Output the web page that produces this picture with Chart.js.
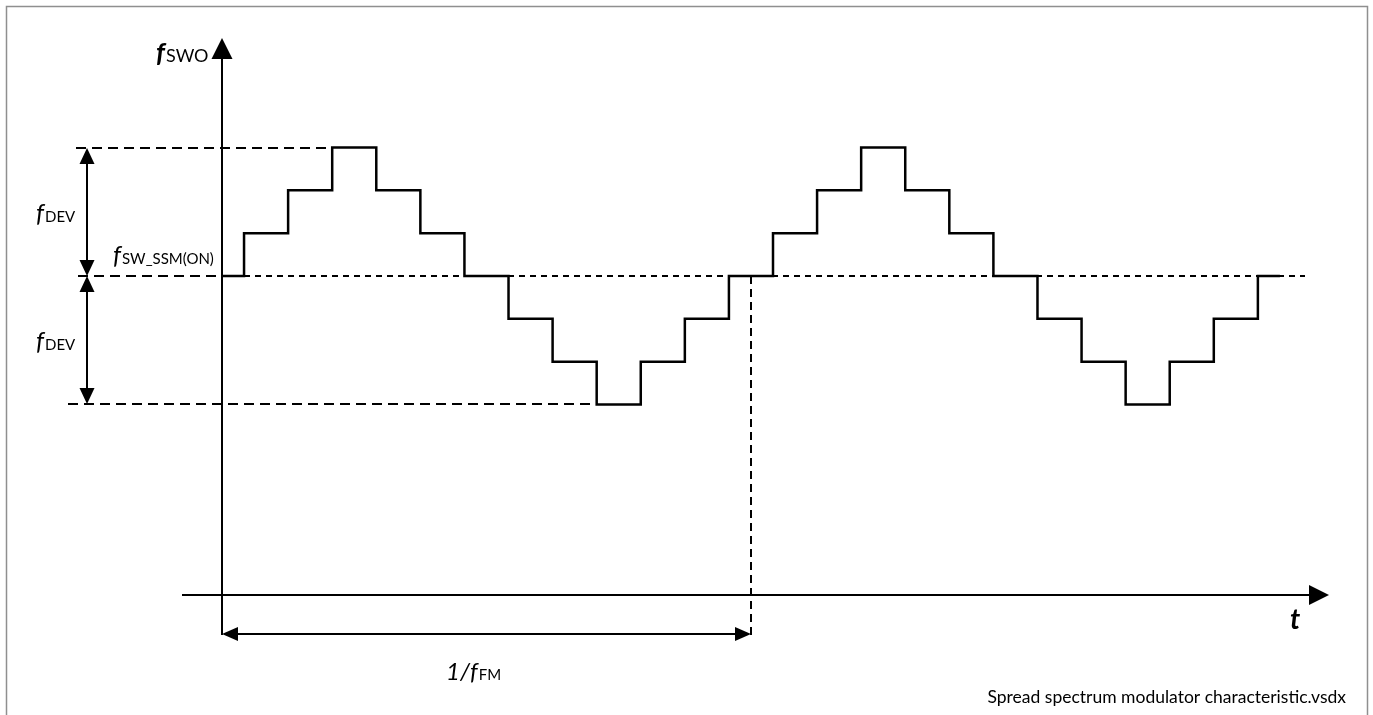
<!DOCTYPE html>
<html>
<head>
<meta charset="utf-8">
<script src="https://cdn.jsdelivr.net/npm/chart.js@4"></script>
<style>
  body { margin: 0; background: #fff; }
  #wrap { width: 1373px; height: 715px; }
</style>
</head>
<body>
<div id="wrap"><canvas id="ssm" width="1373" height="715"></canvas></div>
<script>
// --- data: staircase of the modulated switching frequency ---
// time in modulation steps (one period = 12 steps), level in steps of fDEV/3
const stepTimes = [0, 0.5, 1.5, 2.5, 3.5, 4.5, 5.5, 6.5, 7.5, 8.5, 9.5, 10.5, 11.5,
                   12.5, 13.5, 14.5, 15.5, 16.5, 17.5, 18.5, 19.5, 20.5, 21.5, 22.5, 23.5, 24];
const stepLevels = [0, 1, 2, 3, 2, 1, 0, -1, -2, -3, -2, -1, 0,
                    1, 2, 3, 2, 1, 0, -1, -2, -3, -2, -1, 0, 0];
const levelMax = 3;      // +fDEV
const levelCenter = 0;   // fSW_SSM(ON)
const levelMin = -3;     // -fDEV
const period = 12;       // 1/fFM
const peakTime = 2.5;    // first top plateau starts
const valleyTime = 8.5;  // first bottom plateau starts

const FONT = 'Lato, "Noto Sans", sans-serif';

function arrowHead(ctx, tipX, tipY, dir, len, half) {
    // dir: 'up','down','left','right'
    ctx.beginPath();
    ctx.moveTo(tipX, tipY);
    if (dir === 'up') { ctx.lineTo(tipX - half, tipY + len); ctx.lineTo(tipX + half, tipY + len); }
    if (dir === 'down') { ctx.lineTo(tipX - half, tipY - len); ctx.lineTo(tipX + half, tipY - len); }
    if (dir === 'left') { ctx.lineTo(tipX + len, tipY - half); ctx.lineTo(tipX + len, tipY + half); }
    if (dir === 'right') { ctx.lineTo(tipX - len, tipY - half); ctx.lineTo(tipX - len, tipY + half); }
    ctx.closePath();
    ctx.fill();
}

// snap to the pixel grid so 2px lines stay crisp
const snap = v => Math.round(v);

function line(ctx, x1, y1, x2, y2, width, dash) {
    ctx.save();
    ctx.lineWidth = width;
    ctx.setLineDash(dash || []);
    ctx.beginPath();
    ctx.moveTo(snap(x1), snap(y1));
    ctx.lineTo(snap(x2), snap(y2));
    ctx.stroke();
    ctx.restore();
}

// main symbol + subscript
function subText(ctx, main, sub, x, baseline, mainFont, subFont) {
    ctx.font = mainFont;
    ctx.fillText(main, x, baseline);
    const w = ctx.measureText(main).width;
    ctx.font = subFont;
    ctx.fillText(sub, x + w + 1, baseline);
}

const diagramPlugin = {
    id: 'diagram',
    beforeDatasetsDraw(chart) {
        const ctx = chart.ctx;
        const X = v => chart.scales.x.getPixelForValue(v);
        const Y = v => chart.scales.y.getPixelForValue(v);
        const x0 = snap(X(0)), xP = snap(X(period));
        const yTop = snap(Y(levelMax)), yMid = snap(Y(levelCenter)), yBot = snap(Y(levelMin));
        const axisY = 595;

        ctx.save();
        // frame
        ctx.strokeStyle = '#8f8f8f';
        ctx.lineWidth = 1.5;
        ctx.strokeRect(6.5, 6.5, 1361, 730);

        ctx.strokeStyle = '#000';
        ctx.fillStyle = '#000';
        // axes
        line(ctx, x0, 56, x0, 635, 2);
        arrowHead(ctx, x0, 38, 'up', 21, 10.5);
        line(ctx, 182, axisY, 1312, axisY, 2);
        arrowHead(ctx, 1329, axisY, 'right', 20, 10);

        // reference lines
        line(ctx, 76, yTop, X(peakTime), yTop, 2, [10, 6]);
        line(ctx, 78, yMid, x0, yMid, 2, [10, 6]);
        line(ctx, x0, yMid, 1305, yMid, 2, [6, 5]);
        line(ctx, 68, yBot, X(valleyTime), yBot, 2, [10, 6]);
        line(ctx, xP, yMid, xP, 640, 2, [8, 5]);

        // fDEV dimension arrows
        const ax = 87;
        line(ctx, ax, yTop + 10, ax, yMid - 10, 2);
        arrowHead(ctx, ax, yTop, 'up', 16, 7.5);
        arrowHead(ctx, ax, yMid, 'down', 16, 7.5);
        line(ctx, ax, yMid + 10, ax, yBot - 10, 2);
        arrowHead(ctx, ax, yMid, 'up', 16, 7.5);
        arrowHead(ctx, ax, yBot, 'down', 16, 7.5);

        // period dimension arrow
        const dy = 634;
        line(ctx, x0 + 10, dy, xP - 10, dy, 2);
        arrowHead(ctx, x0, dy, 'left', 16, 7);
        arrowHead(ctx, xP, dy, 'right', 16, 7);

        // labels
        ctx.textBaseline = 'alphabetic';
        ctx.textAlign = 'left';
        subText(ctx, 'f', 'SWO', 156, 62, 'italic bold 27px ' + FONT, '18px ' + FONT);
        subText(ctx, 'f', 'DEV', 36, 222, 'italic 25px ' + FONT, '15px ' + FONT);
        subText(ctx, 'f', 'SW_SSM(ON)', 113, 264, 'italic 25px ' + FONT, '15px ' + FONT);
        subText(ctx, 'f', 'DEV', 36, 350, 'italic 25px ' + FONT, '15px ' + FONT);
        subText(ctx, '1/f', 'FM', 446, 680, 'italic 24px ' + FONT, '15px ' + FONT);
        ctx.font = 'italic bold 28px ' + FONT;
        ctx.fillText('t', 1290, 629);
        ctx.font = '17.5px ' + FONT;
        ctx.textAlign = 'right';
        ctx.fillText('Spread spectrum modulator characteristic.vsdx', 1346, 703);
        ctx.restore();
    }
};

const pxPerStep = 44.08;
const pxPerLevel = 42.83;
const ctx = document.getElementById('ssm').getContext('2d');
new Chart(ctx, {
    type: 'line',
    data: {
        datasets: [{
            label: 'fSWO',
            data: stepTimes.map((t, i) => ({ x: t, y: stepLevels[i] })),
            stepped: true,
            borderColor: '#000',
            borderWidth: 2.5,
            pointRadius: 0,
            fill: false,
            borderJoinStyle: 'miter',
            borderCapStyle: 'butt'
        }]
    },
    options: {
        responsive: false,
        animation: false,
        events: [],
        layout: { padding: 0 },
        plugins: { legend: { display: false }, tooltip: { enabled: false } },
        scales: {
            x: { type: 'linear', display: false, min: -222 / pxPerStep, max: (1373 - 222) / pxPerStep },
            y: { type: 'linear', display: false, min: -(715 - 276) / pxPerLevel, max: 276 / pxPerLevel }
        }
    },
    plugins: [diagramPlugin]
});
</script>
</body>
</html>
